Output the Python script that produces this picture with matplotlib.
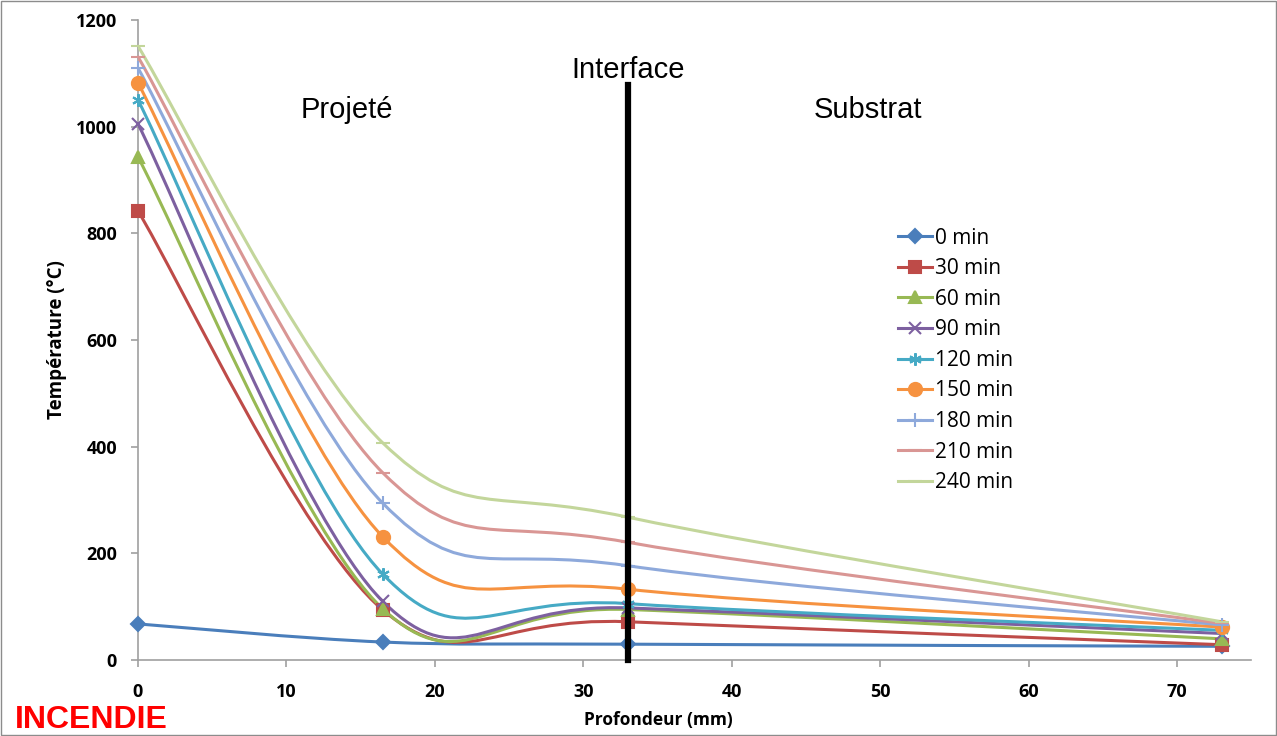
import matplotlib
matplotlib.use("Agg")
import matplotlib.pyplot as plt
from matplotlib.path import Path
from matplotlib.patches import PathPatch, Rectangle
from matplotlib.lines import Line2D

# depths (mm)
depth = [0, 16.5, 33, 73]

labels = ['0 min', '30 min', '60 min', '90 min', '120 min',
          '150 min', '180 min', '210 min', '240 min']

t0 = [68, 34, 30, 26]
t30 = [842, 94, 72, 29]
t60 = [943, 96, 95, 40]
t90 = [1005, 110, 98, 50]
t120 = [1050, 161, 106, 56]
t150 = [1082, 231, 133, 62]
t180 = [1110, 294, 177, 66]
t210 = [1131, 351, 221, 69]
t240 = [1151, 407, 268, 72]
series = [t0, t30, t60, t90, t120, t150, t180, t210, t240]

colors = ['#4A7EBB', '#BE4B48', '#98B954', '#7D60A0', '#46AAC5',
          '#F69240', '#8EA9DB', '#D99694', '#C3D69B']
markers = ['D', 's', '^', 'x', (6, 2, 0), 'o', '+', '_', '_']
msizes = [7, 8.5, 8.5, 8, 9, 9.5, 10, 10, 10]

plt.rcParams['font.family'] = ['Open Sans', 'DejaVu Sans']

fig = plt.figure(figsize=(12.77, 7.36), dpi=100)
ax = fig.add_axes([0.108, 0.103, 0.872, 0.87])


def smooth_path(xs, ys):
    # Excel-style smoothed line: cubic Bezier with 1/6 tangents
    pts = list(zip(xs, ys))
    verts = [pts[0]]
    codes = [Path.MOVETO]
    n = len(pts)
    for i in range(n - 1):
        p_prev = pts[i - 1] if i > 0 else pts[i]
        p0 = pts[i]
        p1 = pts[i + 1]
        p_next = pts[i + 2] if i + 2 < n else pts[i + 1]
        c1 = (p0[0] + (p1[0] - p_prev[0]) / 6, p0[1] + (p1[1] - p_prev[1]) / 6)
        c2 = (p1[0] - (p_next[0] - p0[0]) / 6, p1[1] - (p_next[1] - p0[1]) / 6)
        verts += [c1, c2, p1]
        codes += [Path.CURVE4] * 3
    return Path(verts, codes)


handles = []
for vals, lab, col, mk, ms in zip(series, labels, colors, markers, msizes):
    ax.add_patch(PathPatch(smooth_path(depth, vals), fill=False,
                           edgecolor=col, lw=2.2, capstyle='round', zorder=3))
    ax.plot(depth, vals, linestyle='none', marker=mk, markersize=ms,
            color=col, markeredgecolor=col, mew=1.5, zorder=4, clip_on=False)
    handles.append(Line2D([], [], color=col, lw=2.2, marker=mk, markersize=ms,
                          markeredgecolor=col, mew=1.5))

# interface line
ax.plot([33, 33], [0, 1078], color='black', lw=4.5, zorder=5, clip_on=False)

ax.set_xlim(0, 75)
ax.set_ylim(0, 1200)
ax.set_xticks(range(0, 80, 10))
ax.set_yticks(range(0, 1400, 200))
for s in ['top', 'right']:
    ax.spines[s].set_visible(False)
for s in ['left', 'bottom']:
    ax.spines[s].set_color('#A0A0A0')
    ax.spines[s].set_linewidth(1.2)
ax.tick_params(colors='#A0A0A0', length=5, width=1.2, labelcolor='black',
               labelsize=13)
ax.tick_params(axis='x', pad=11.5)
ax.tick_params(axis='y', pad=10)
for t in ax.get_xticklabels() + ax.get_yticklabels():
    t.set_fontweight('bold')

ax.set_xlabel('Profondeur (mm)', fontsize=12.5, fontweight='bold')
ax.xaxis.set_label_coords(0.467, -0.094)
ax.xaxis.label.set_va('center')
ax.set_ylabel('Température (°C)', fontsize=13.5, fontweight='bold')
ax.yaxis.set_label_coords(-0.0727, 0.5)
ax.yaxis.label.set_va('center')

sans = ['Liberation Sans', 'DejaVu Sans']
ax.text(14.07, 1031, 'Projeté', fontsize=21, ha='center', va='center',
        family=sans)
ax.text(33, 1106, 'Interface', fontsize=21, ha='center', va='center',
        family=sans)
ax.text(49.15, 1031, 'Substrat', fontsize=21, ha='center', va='center',
        family=sans)

fig.text(0.012, 0.011, 'INCENDIE', color='#FF0000', fontsize=23,
         fontweight='bold', family=sans)

ax.legend(handles, labels, loc='upper left', bbox_to_anchor=(0.695, 0.705),
          bbox_transform=fig.transFigure, frameon=False, fontsize=15,
          handlelength=1.65, handletextpad=0.15, labelspacing=0.46,
          borderpad=0)

fig.patches.append(Rectangle((0.001, 0.001), 0.998, 0.998, fill=False,
                             edgecolor='#8C8C8C', lw=1,
                             transform=fig.transFigure, figure=fig))

fig.savefig('out.png', dpi=100)
